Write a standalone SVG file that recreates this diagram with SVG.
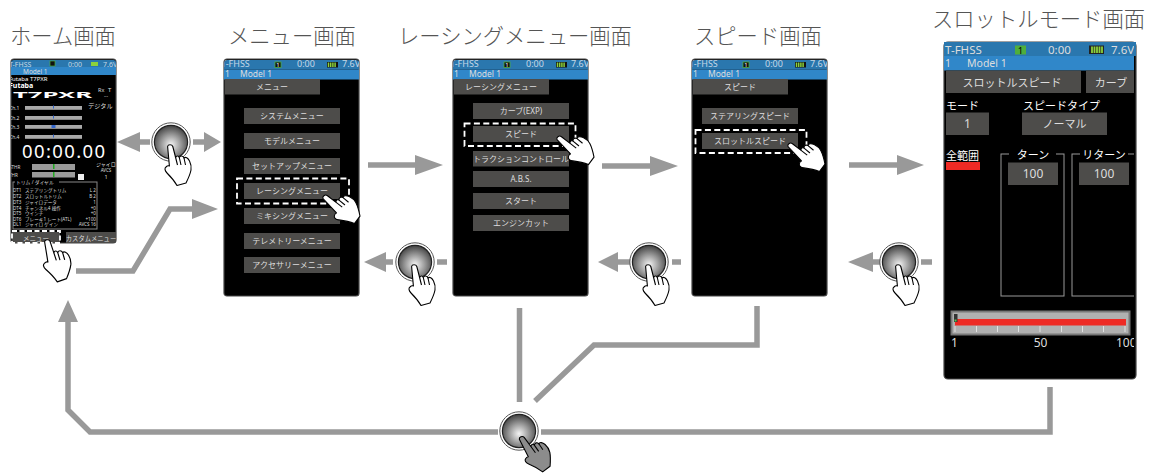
<svg xmlns="http://www.w3.org/2000/svg" xmlns:xlink="http://www.w3.org/1999/xlink" width="1153" height="473" viewBox="0 0 1153 473">
<style>
text{font-family:"Noto Sans","Noto Sans CJK JP",sans-serif;fill:#ddd}
.title{font-family:"Noto Sans CJK JP",sans-serif;font-size:21.3px;font-weight:300;fill:#555}
.b{fill:#4d4c4a}
.bt{font-size:8px;text-anchor:middle}
.bb{font-size:11px}
.m{text-anchor:middle}
.scr{fill:#000;stroke:#444;stroke-width:1.2}
.st{fill:#2a77ae}
.mo{fill:#3087c9}
.sm{fill:#c6d8e6}
.dash{fill:none;stroke:#fff;stroke-width:1.8;stroke-dasharray:6 3.4}
.line{fill:none;stroke:#999;stroke-width:5.5}
.head{fill:#999}
.thin{fill:none;stroke:#999;stroke-width:1}
.hand{fill:#fff;stroke:#000;stroke-width:1.1;stroke-linejoin:round}
.tiny{font-size:4.6px}
.bar{fill:#a9a9a9}
</style>
<defs>
<radialGradient id="g" cx="50%" cy="58%" r="55%"><stop offset="0" stop-color="#f4f4f4"/><stop offset="0.55" stop-color="#989898"/><stop offset="1" stop-color="#4a4a4a"/></radialGradient>
<g id="btn"><circle r="19.2" fill="#fff" stroke="#555" stroke-width="1"/><circle r="16.6" fill="url(#g)" stroke="#222" stroke-width="1.2"/></g>
<g id="hand"><path d="M-2.4,1.5C-2,-.8 2,-.8 2.8,1.5L5.6,12.5C6.5,10.5 8.5,10.5 9.3,12.500C10.5,10.5 13,10.5 14,13C15.500,11.5 18,13 19.5,16C21,19 21.500,22 21,25C20,30 18,34 16,38L7,40.500C5,37 1,32 -3,28C-5.500,25.500 -5.500,23 -4,22C-3,21 -1.800,20.500 -.6,21Z"/><path fill="none" d="M5.600,12.500L7.500,20M9.300,12.500L11,20M14,13L15.500,20"/></g>
<clipPath id="c0"><rect x="0" y="1" width="135" height="236" rx="3"/></clipPath>
<clipPath id="c1"><rect x="11" y="60" width="105" height="183" rx="3"/></clipPath>
<clipPath id="c2"><rect x="944" y="42" width="190" height="337" rx="4"/></clipPath>
<g id="batt"><rect x="0" y="0" width="11" height="5.500" fill="#111"/><path d="M1.500,.5V5M3.700,.5V5M5.900,.5V5M8.100,.5V5" stroke="#8cd23c" stroke-width="1.500"/></g>
<g id="hdr">
<rect x="0" y="0" width="135" height="10.500" class="st"/><rect x="0" y="10.500" width="135" height="10" class="mo"/>
<text x="-3" y="7.700" font-size="9" class="sm">T-FHSS</text>
<rect x="51" y="3" width="6" height="5.500" fill="#111" stroke="#4fae3c" stroke-width="0.800"/><text x="54" y="8" font-size="6" class="m" style="fill:#fff">1</text>
<text x="73" y="7.700" font-size="9" class="sm">0:00</text>
<use xlink:href="#batt" x="103" y="3"/>
<text x="118" y="7.700" font-size="9" class="sm">7.6V</text>
<text x="1" y="17.500" font-size="8.500">1</text><text x="16" y="17.500" font-size="8.500">Model 1</text>
</g>
<g id="screen"><rect x="0" y="0" width="135" height="237" rx="3" class="scr"/><g clip-path="url(#c0)"><use xlink:href="#hdr"/></g></g>
</defs>
<rect width="1153" height="473" fill="#fff"/>

<g id="connectors">
<path class="line" d="M150,142H131M193,142H205M76,271H133L170,209H193M368,165H417M602,166H652M849,165H899M393,262H384M437,262H447M630,262H616M672,262H681M880,262H871M921,262H932M519.500,308V402M757,306V345H594L535,401M1050,387V432H541M498,432H90L68,410V320"/>
<path class="head" d="M117,142L140,132V152ZM221,142L204,132V152ZM218,209L192,199V219ZM443,165L415,155V175ZM678,166L650,156V176ZM924,165L897,155V175ZM364,262L386,252V272ZM598,262L618,252V272ZM848,262L873,252V272ZM68,300L58,322H78Z"/>
</g>

<g id="titles">
<text class="title" x="10" y="44">ホーム画面</text>
<text class="title" x="228" y="44">メニュー画面</text>
<text class="title" x="398" y="44">レーシングメニュー画面</text>
<text class="title" x="694" y="44">スピード画面</text>
<text class="title" x="932" y="27">スロットルモード画面</text>
</g>

<g id="home">
<rect x="11" y="59" width="105" height="184" rx="3" class="scr"/>
<g clip-path="url(#c1)">
<rect x="11" y="59" width="105" height="8" class="st"/><rect x="11" y="67" width="105" height="8" class="mo"/>
<text x="9" y="66.500" font-size="7" class="sm">T-FHSS</text>
<rect x="50" y="61" width="5" height="5" fill="#111" stroke="#4fae3c" stroke-width="0.700"/>
<text x="68" y="66.500" font-size="7" class="sm">0:00</text>
<rect x="91" y="62" width="7" height="4" fill="#8cd23c"/>
<text x="103" y="66.500" font-size="7" class="sm">7.6V</text>
<text x="23" y="73.500" font-size="6.500">Model 1</text>
<text x="9" y="81" font-size="6" style="fill:#fff">Futaba T7PXR</text>
<text x="9" y="88" font-size="7" font-weight="700" style="fill:#fff">Futaba</text>
<text x="13" y="98" font-size="8.500" font-weight="700" textLength="79" lengthAdjust="spacingAndGlyphs" style="fill:#fff">T7PXR</text>
<text x="98" y="92" font-size="5.500">Rx</text><text x="108" y="92" font-size="6">T</text>
<text x="104" y="97" font-size="5">...</text>
<text x="88" y="108" font-size="6.200">デジタル</text>
<g font-size="5"><text x="9" y="110">Ch.1</text><text x="9" y="120">Ch.2</text><text x="9" y="129">Ch.3</text><text x="9" y="139">Ch.4</text></g>
<rect x="25" y="106" width="57" height="3.800" class="bar"/><rect x="25" y="116" width="57" height="3.800" class="bar"/><rect x="25" y="125" width="57" height="3.800" class="bar"/><rect x="25" y="135" width="57" height="3.800" class="bar"/>
<rect x="53" y="105.500" width="1" height="3" fill="#36c"/><rect x="53" y="115.500" width="1" height="3" fill="#36c"/><rect x="51.500" y="125" width="4" height="3" fill="#36c"/><rect x="53" y="134.500" width="1" height="3" fill="#36c"/>
<text x="22" y="158" font-size="18.500" textLength="83" style="fill:#fff">00:00.00</text>
<text x="9" y="168.500" class="tiny">STHR</text><text x="9" y="176.500" class="tiny">THR</text>
<rect x="32" y="164" width="43" height="6" fill="#9a9a9a"/><rect x="32" y="172" width="43" height="5.500" fill="#9a9a9a"/>
<rect x="53" y="164" width="1.500" height="5" fill="#2a2"/><rect x="53" y="172" width="1.500" height="5" fill="#2a2"/>
<rect x="78" y="174" width="6" height="6" fill="#eee"/>
<text x="106" y="166" font-size="5" class="m">ジャイロ</text><text x="106" y="171.500" font-size="4.500" class="m">AVCS</text><text x="106" y="178.500" font-size="5.500" class="m">1</text>
<rect x="13" y="182" width="84" height="47" class="thin" style="stroke:#888"/>
<rect x="15" y="179.500" width="44" height="5" fill="#000"/>
<text x="16" y="184" font-size="4.800">トリム / ダイヤル</text>
<g class="tiny">
<text x="13" y="191.500">DT1</text><text x="25" y="191.500">ステアリングトリム</text><text x="96" y="191.500" text-anchor="end">L 2</text>
<text x="13" y="197.500">DT2</text><text x="25" y="197.500">スロットルトリム</text><text x="96" y="197.500" text-anchor="end">B 2</text>
<text x="13" y="203.500">DT3</text><text x="25" y="203.500">ジャイロデータ</text><text x="96" y="203.500" text-anchor="end">1</text>
<text x="13" y="209.500">DT4</text><text x="25" y="209.500">チャンネル4 操作</text><text x="96" y="209.500" text-anchor="end">+0</text>
<text x="13" y="215">DT5</text><text x="25" y="215">ウインチ</text><text x="96" y="215" text-anchor="end">+0</text>
<text x="13" y="220.500">DT6</text><text x="25" y="220.500">ブレーキ1 レート(ATL)</text><text x="96" y="220.500" text-anchor="end">+100</text>
<text x="13" y="226">DL1</text><text x="25" y="226">ジャイロ ゲイン</text><text x="96" y="226" text-anchor="end">AVCS 16</text>
</g>
<rect x="12" y="232" width="48" height="11" class="b"/><text x="36" y="240.500" class="m" font-size="6.500">メニュー</text>
<rect x="66" y="232" width="50" height="11" class="b"/><text x="91" y="240.500" class="m" font-size="6.300">カスタムメニュー</text>
</g>
<rect x="12" y="231" width="48" height="12" class="dash" style="stroke-dasharray:5 2.500"/>
<use xlink:href="#hand" class="hand" transform="translate(47,240) rotate(-4) scale(1.05)"/>
</g>

<g id="menu">
<use xlink:href="#screen" transform="translate(224,59)"/>
<rect x="225" y="79" width="95" height="15.500" class="b"/><text x="272" y="90" class="bt">メニュー</text>
<rect x="244" y="108" width="96" height="16" class="b"/><text x="292" y="119" class="bt">システムメニュー</text>
<rect x="244" y="133" width="96" height="16" class="b"/><text x="292" y="144" class="bt">モデルメニュー</text>
<rect x="244" y="158" width="96" height="16" class="b"/><text x="292" y="169" class="bt">セットアップメニュー</text>
<rect x="244" y="183" width="96" height="16" class="b"/><text x="292" y="194" class="bt">レーシングメニュー</text>
<rect x="244" y="208" width="96" height="16" class="b"/><text x="292" y="219" class="bt">ミキシングメニュー</text>
<rect x="244" y="233" width="96" height="16" class="b"/><text x="292" y="244" class="bt">テレメトリーメニュー</text>
<rect x="244" y="257" width="96" height="16" class="b"/><text x="292" y="268" class="bt">アクセサリーメニュー</text>
<rect x="237" y="178.500" width="112" height="25" class="dash"/>
<use xlink:href="#hand" class="hand" transform="translate(324,196) rotate(-38)"/>
</g>

<g id="racing">
<use xlink:href="#screen" transform="translate(453,59)"/>
<rect x="454" y="79" width="95" height="15.500" class="b"/><text x="501" y="90" class="bt">レーシングメニュー</text>
<rect x="473" y="103" width="96" height="16" class="b"/><text x="521" y="114" class="bt">カーブ(EXP)</text>
<rect x="473" y="126" width="96" height="16" class="b"/><text x="521" y="137" class="bt">スピード</text>
<rect x="473" y="151" width="96" height="15.500" class="b"/><text x="521" y="162" class="bt">トラクションコントロール</text>
<rect x="473" y="171" width="96" height="16" class="b"/><text x="521" y="182" class="bt">A.B.S.</text>
<rect x="473" y="193" width="96" height="16" class="b"/><text x="521" y="204" class="bt">スタート</text>
<rect x="473" y="215" width="96" height="16" class="b"/><text x="521" y="226" class="bt">エンジンカット</text>
<rect x="464.500" y="123.500" width="111" height="22.500" class="dash"/>
<use xlink:href="#hand" class="hand" transform="translate(558,137) rotate(-38)"/>
</g>

<g id="speed">
<use xlink:href="#screen" transform="translate(692,59)"/>
<rect x="693" y="79" width="95" height="15.500" class="b"/><text x="740" y="90" class="bt">スピード</text>
<rect x="702" y="108" width="96" height="16" class="b"/><text x="750" y="119" class="bt">ステアリングスピード</text>
<rect x="702" y="133" width="96" height="16" class="b"/><text x="750" y="144" class="bt">スロットルスピード</text>
<rect x="695.500" y="130" width="111" height="23" class="dash"/>
<use xlink:href="#hand" class="hand" transform="translate(789,144) rotate(-38)"/>
</g>

<g id="throttle">
<rect x="944" y="42" width="192" height="337" rx="4" class="scr"/>
<rect x="944" y="42" width="192" height="14" class="st"/><rect x="944" y="56" width="190" height="14.500" class="mo"/>
<g clip-path="url(#c2)">
<text x="945" y="54" font-size="11.500">T-FHSS</text>
<rect x="1015" y="45.500" width="11" height="9" fill="#4fae3c"/><text x="1020.500" y="53.500" font-size="9.500" class="m" style="fill:#000">1</text>
<text x="1048" y="54" font-size="11.500">0:00</text>
<rect x="1089" y="45.500" width="15" height="8.500" fill="#222"/><path d="M1092,46.500V53M1094.500,46.500V53M1097,46.500V53M1099.500,46.500V53M1102,46.500V53" stroke="#8cd23c" stroke-width="1.800"/>
<text x="1111" y="54" font-size="11.500">7.6V</text>
<text x="945" y="67" font-size="10.500">1</text><text x="967" y="67" font-size="10.500">Model 1</text>
<rect x="946" y="70.500" width="135" height="22.500" class="b"/><text x="1012" y="87" class="bb m">スロットルスピード</text>
<rect x="1086" y="70.500" width="49" height="22.500" class="b"/><text x="1111" y="87" class="bb m">カーブ</text>
<text x="946" y="110" class="bb" style="fill:#fff">モード</text>
<text x="1023" y="110" class="bb" style="fill:#fff">スピードタイプ</text>
<rect x="946" y="112.500" width="43" height="22.500" class="b"/><text x="967.500" y="128" font-size="12" class="m">1</text>
<rect x="1022" y="112.500" width="85" height="22.500" class="b"/><text x="1064.500" y="128" class="bb m">ノーマル</text>
<text x="946" y="160" class="bb" style="fill:#fff">全範囲</text>
<rect x="946" y="162" width="34" height="8" fill="#ee2a24"/>
<rect x="1001" y="154" width="63" height="142" fill="none" stroke="#999" stroke-width="1"/>
<rect x="1072" y="154" width="70" height="142" fill="none" stroke="#999" stroke-width="1"/>
<rect x="1009" y="148" width="47" height="12" fill="#000"/><text x="1033" y="159" class="bb m" style="fill:#fff">ターン</text>
<rect x="1080" y="148" width="48" height="12" fill="#000"/><text x="1104" y="159" class="bb m" style="fill:#fff">リターン</text>
<rect x="1008" y="162.500" width="50" height="22.500" class="b"/><text x="1033" y="178" font-size="12" class="m">100</text>
<rect x="1079" y="162.500" width="50" height="22.500" class="b"/><text x="1104" y="178" font-size="12" class="m">100</text>
<rect x="951.500" y="311.500" width="178" height="23" fill="#b0b0b0" stroke="#777" stroke-width="2"/>
<rect x="955" y="319" width="171" height="6.500" fill="#ee2a24"/>
<path d="M955,326V332M976.500,326V332M997.500,326V332M1018.500,326V332M1040,326V332M1061.500,326V332M1082.500,326V332M1103.500,326V332M1125,326V332" stroke="#eee" stroke-width="0.800" fill="none"/>
<rect x="954" y="314" width="3.500" height="8" fill="#333"/><rect x="954.500" y="319.500" width="2" height="2" fill="#5c5"/>
<text x="954.500" y="347" font-size="12" class="m">1</text><text x="1040.500" y="347" font-size="12" class="m">50</text><text x="1116" y="347" font-size="12">100</text>
</g>
</g>

<g id="key-home"><use xlink:href="#btn" transform="translate(171,142)"/><use xlink:href="#hand" class="hand" transform="translate(170,145)"/></g>
<g id="key-menu"><use xlink:href="#btn" transform="translate(415,262)"/><use xlink:href="#hand" class="hand" transform="translate(414,265)"/></g>
<g id="key-racing"><use xlink:href="#btn" transform="translate(649,262)"/><use xlink:href="#hand" class="hand" transform="translate(648,265)"/></g>
<g id="key-speed"><use xlink:href="#btn" transform="translate(899,262)"/><use xlink:href="#hand" class="hand" transform="translate(898,265)"/></g>
<g id="key-bottom"><use xlink:href="#btn" transform="translate(519,431)"/><use xlink:href="#hand" class="hand" style="fill:#8c8c8c" transform="translate(521,437) rotate(-22)"/></g>
</svg>
